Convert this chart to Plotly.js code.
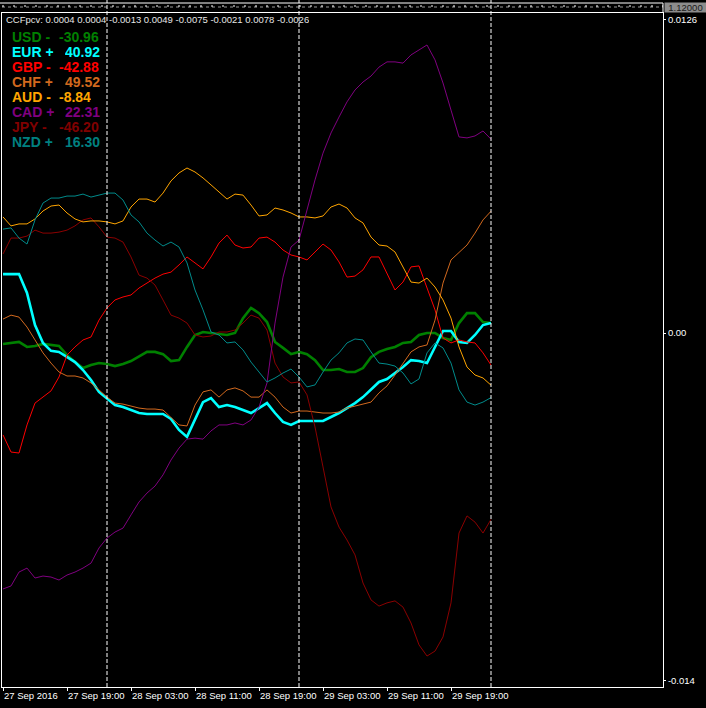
<!DOCTYPE html>
<html><head><meta charset="utf-8">
<script src="https://cdn.plot.ly/plotly-3.0.1.min.js"></script>
<style>html,body{margin:0;padding:0;background:#000;}#chart{width:706px;height:708px;}</style>
</head><body><div id="chart"></div>
<script>
// ---- data (hourly bars, H1) ----
const times = [
 '2016-09-27 11:00','2016-09-27 12:00','2016-09-27 13:00','2016-09-27 14:00','2016-09-27 15:00','2016-09-27 16:00','2016-09-27 17:00','2016-09-27 18:00','2016-09-27 19:00','2016-09-27 20:00','2016-09-27 21:00','2016-09-27 22:00','2016-09-27 23:00',
 '2016-09-28 00:00','2016-09-28 01:00','2016-09-28 02:00','2016-09-28 03:00','2016-09-28 04:00','2016-09-28 05:00','2016-09-28 06:00','2016-09-28 07:00','2016-09-28 08:00','2016-09-28 09:00','2016-09-28 10:00','2016-09-28 11:00',
 '2016-09-28 12:00','2016-09-28 13:00','2016-09-28 14:00','2016-09-28 15:00','2016-09-28 16:00','2016-09-28 17:00','2016-09-28 18:00','2016-09-28 19:00','2016-09-28 20:00','2016-09-28 21:00','2016-09-28 22:00','2016-09-28 23:00',
 '2016-09-29 00:00','2016-09-29 01:00','2016-09-29 02:00','2016-09-29 03:00','2016-09-29 04:00','2016-09-29 05:00','2016-09-29 06:00','2016-09-29 07:00','2016-09-29 08:00','2016-09-29 09:00','2016-09-29 10:00','2016-09-29 11:00',
 '2016-09-29 12:00','2016-09-29 13:00','2016-09-29 14:00','2016-09-29 15:00','2016-09-29 16:00','2016-09-29 17:00','2016-09-29 18:00','2016-09-29 19:00','2016-09-29 20:00','2016-09-29 21:00','2016-09-29 22:00','2016-09-29 23:00',
 '2016-09-30 00:00'
];
const usd = [-0.00044,-0.00040,-0.00036,-0.00056,-0.00052,-0.00044,-0.00048,-0.00052,-0.00089,-0.00117,
 -0.00141,-0.00129,-0.00121,-0.00125,-0.00133,-0.00125,-0.00113,-0.00093,-0.00076,-0.00076,
 -0.00085,-0.00113,-0.00109,-0.00056,-0.00008,0.00004,0,-0.00004,-0.00008,0,
 0.00060,0.00101,0.00080,0.00044,-0.00036,-0.00060,-0.00085,-0.00076,-0.00085,-0.00109,
 -0.00149,-0.00149,-0.00145,-0.00157,-0.00157,-0.00141,-0.00097,-0.00076,-0.00064,-0.00056,
 -0.00040,-0.00036,-0.00008,0,0,-0.00020,-0.00028,0.00040,0.00080,0.00080,
 0.00044,0.00040];
const eur = [0.00237,0.00237,0.00237,0.00161,0.00032,-0.00040,-0.00072,-0.00076,-0.00097,-0.00117,
 -0.00149,-0.00189,-0.00237,-0.00262,-0.00290,-0.00298,-0.00310,-0.00322,-0.00326,-0.00326,
 -0.00326,-0.00346,-0.00390,-0.00418,-0.00350,-0.00278,-0.00262,-0.00298,-0.00290,-0.00298,
 -0.00310,-0.00322,-0.00302,-0.00282,-0.00322,-0.00358,-0.00370,-0.00354,-0.00354,-0.00354,
 -0.00354,-0.00338,-0.00322,-0.00302,-0.00282,-0.00258,-0.00229,-0.00197,-0.00185,-0.00161,
 -0.00137,-0.00109,-0.00113,-0.00121,-0.00056,0.00008,0.00008,-0.00036,-0.00040,-0.00008,
 0.00032,0.00040];
const gbp = [-0.00410,-0.00479,-0.00483,-0.00370,-0.00282,-0.00258,-0.00233,-0.00177,-0.00089,-0.00056,
 -0.00028,-0.00016,0.00052,0.00101,0.00133,0.00145,0.00153,0.00181,0.00201,0.00221,
 0.00237,0.00245,0.00274,0.00306,0.00282,0.00258,0.00306,0.00362,0.00394,0.00354,
 0.00342,0.00346,0.00382,0.00386,0.00366,0.00334,0.00314,0.00306,0.00294,0.00326,
 0.00358,0.00334,0.00286,0.00225,0.00229,0.00254,0.00306,0.00306,0.00241,0.00173,
 0.00205,0.00266,0.00270,0.00185,0.00093,-0.00020,-0.00040,-0.00028,-0.00036,-0.00040,
 -0.00080,-0.00129];
const chf = [0.00056,0.00072,0.00064,0.00024,-0.00028,-0.00080,-0.00121,-0.00157,-0.00173,-0.00173,
 -0.00181,-0.00201,-0.00229,-0.00258,-0.00282,-0.00286,-0.00294,-0.00302,-0.00306,-0.00306,
 -0.00310,-0.00338,-0.00370,-0.00374,-0.00290,-0.00237,-0.00229,-0.00258,-0.00229,-0.00221,
 -0.00233,-0.00258,-0.00258,-0.00229,-0.00258,-0.00298,-0.00322,-0.00314,-0.00314,-0.00318,
 -0.00322,-0.00322,-0.00318,-0.00302,-0.00294,-0.00286,-0.00278,-0.00241,-0.00213,-0.00169,
 -0.00121,-0.00076,-0.00056,-0.00048,0.00052,0.00201,0.00294,0.00326,0.00354,0.00402,
 0.00455,0.00490];
const jpy = [0.00318,0.00382,0.00382,0.00390,0.00414,0.00402,0.00402,0.00406,0.00414,0.00431,
 0.00455,0.00463,0.00427,0.00386,0.00382,0.00366,0.00306,0.00233,0.00221,0.00193,
 0.00133,0.00072,0.00060,0.00040,-0.00008,-0.00016,-0.00012,0.00004,0.00004,0.00012,
 0.00040,0.00072,0.00060,0.00012,-0.00121,-0.00177,-0.00201,-0.00197,-0.00249,-0.00378,
 -0.00539,-0.00700,-0.00781,-0.00833,-0.00893,-0.01006,-0.01074,-0.01099,-0.01086,-0.01078,
 -0.01103,-0.01167,-0.01255,-0.01300,-0.01280,-0.01223,-0.01086,-0.00805,-0.00736,-0.00761,
 -0.00805,-0.00750];
const aud = [0.00467,0.00431,0.00439,0.00439,0.00459,0.00491,0.00511,0.00515,0.00483,0.00459,
 0.00447,0.00451,0.00451,0.00447,0.00439,0.00451,0.00507,0.00539,0.00539,0.00527,
 0.00563,0.00612,0.00644,0.00664,0.00648,0.00624,0.00596,0.00567,0.00539,0.00559,
 0.00555,0.00515,0.00471,0.00475,0.00503,0.00495,0.00483,0.00467,0.00467,0.00463,
 0.00471,0.00507,0.00519,0.00503,0.00463,0.00443,0.00386,0.00354,0.00350,0.00326,
 0.00266,0.00205,0.00201,0.00221,0.00185,0.00133,0.00060,-0.00056,-0.00137,-0.00169,
 -0.00181,-0.00210];
const cad = [-0.01030,-0.01018,-0.00962,-0.00946,-0.00986,-0.00978,-0.00982,-0.00994,-0.00974,-0.00962,
 -0.00946,-0.00926,-0.00865,-0.00825,-0.00801,-0.00785,-0.00732,-0.00680,-0.00644,-0.00616,
 -0.00571,-0.00511,-0.00463,-0.00427,-0.00423,-0.00427,-0.00394,-0.00370,-0.00370,-0.00362,
 -0.00370,-0.00350,-0.00298,-0.00201,0.00040,0.00225,0.00346,0.00374,0.00495,0.00616,
 0.00724,0.00805,0.00869,0.00930,0.00978,0.01010,0.01034,0.01070,0.01091,0.01091,
 0.01086,0.01119,0.01139,0.01159,0.01099,0.01006,0.00897,0.00789,0.00785,0.00793,
 0.00813,0.00780];
const nzd = [0.00418,0.00423,0.00382,0.00358,0.00455,0.00523,0.00543,0.00543,0.00551,0.00551,
 0.00559,0.00547,0.00555,0.00563,0.00563,0.00535,0.00475,0.00447,0.00402,0.00374,
 0.00350,0.00366,0.00346,0.00282,0.00173,0.00093,0.00004,-0.00008,-0.00040,-0.00036,
 -0.00068,-0.00117,-0.00157,-0.00197,-0.00181,-0.00161,-0.00145,-0.00177,-0.00217,-0.00209,
 -0.00157,-0.00109,-0.00080,-0.00040,-0.00024,-0.00028,-0.00076,-0.00121,-0.00125,-0.00133,
 -0.00161,-0.00205,-0.00185,-0.00080,-0.00040,-0.00060,-0.00121,-0.00229,-0.00278,-0.00290,
 -0.00278,-0.00260];

const legendNames  = ['USD','EUR','GBP','CHF','AUD','CAD','JPY','NZD'];
const legendSigns  = ['-','+','-','+','-','+','-','+'];
const legendValues = ['-30.96','40.92','-42.88','49.52','-8.84','22.31','-46.20','16.30'];
const headerLabel  = 'CCFpcv:';
const headerValues = ['0.0004','0.0004','-0.0013','0.0049','-0.0075','-0.0021','0.0078','-0.0026'];
const xTickVals = ['2016-09-27 11:00','2016-09-27 19:00','2016-09-28 03:00','2016-09-28 11:00','2016-09-28 19:00','2016-09-29 03:00','2016-09-29 11:00','2016-09-29 19:00'];
const xTickText = ['27 Sep 2016','27 Sep 19:00','28 Sep 03:00','28 Sep 11:00','28 Sep 19:00','29 Sep 03:00','29 Sep 11:00','29 Sep 19:00'];
const yTickVals = [0.0126, 0, -0.014];
const yTickText = ['0.0126','0.00','-0.014'];
const daySeparators = ['2016-09-28 00:00','2016-09-29 00:00','2016-09-30 00:00'];
const priceLabel = '1.12000';

// ---- styles ----
const COLORS = {USD:'#008000',EUR:'#00FFFF',GBP:'#FF0000',CHF:'#D2691E',AUD:'#FFA500',CAD:'#800080',JPY:'#8B0000',NZD:'#008B8B'};
const TEXTCOL = {USD:'#008000',EUR:'#00FFFF',GBP:'#FF0000',CHF:'#D2691E',AUD:'#FFA500',CAD:'#800080',JPY:'#800000',NZD:'#008080'};
const WIDTHS = {USD:2.6,EUR:2.6,GBP:1,CHF:1,AUD:1,CAD:1,JPY:1,NZD:1};
const seriesByName = {USD:usd,EUR:eur,GBP:gbp,CHF:chf,JPY:jpy,AUD:aud,CAD:cad,NZD:nzd};
const drawOrder = ['USD','EUR','GBP','CHF','JPY','AUD','CAD','NZD'];

const W=706,H=708,M={l:2,r:43,t:13,b:21};
const plotW=W-M.l-M.r, plotH=H-M.t-M.b;
const px2x = px => (px-M.l)/plotW;
const py2y = py => (H-M.b-py)/plotH;
const FONT='Liberation Sans, Arial, sans-serif';

const traces = drawOrder.map(n => ({
  type:'scatter', mode:'lines', x:times, y:seriesByName[n], name:n,
  line:{color:COLORS[n], width:WIDTHS[n]}, hoverinfo:'skip', showlegend:false
}));

const annotations = [];
annotations.push({xref:'paper',yref:'paper',x:px2x(5),y:py2y(20),xanchor:'left',yanchor:'middle',
  text:headerLabel+' '+headerValues.join(' '),showarrow:false,height:11,borderpad:0,
  font:{family:FONT,size:9.5,color:'#E6E6E6'}});
legendNames.forEach((n,i)=>{
  const py = 36.7 + i*14.9;
  annotations.push({xref:'paper',yref:'paper',x:px2x(11),y:py2y(py),xanchor:'left',yanchor:'middle',
    text:'<b>'+n+' '+legendSigns[i]+'</b>',showarrow:false,height:13,borderpad:0,
    font:{family:FONT,size:14,color:TEXTCOL[n]}});
  const vx = legendValues[i].startsWith('-') ? 58 : 64;
  annotations.push({xref:'paper',yref:'paper',x:px2x(vx),y:py2y(py),xanchor:'left',yanchor:'middle',
    text:'<b>'+legendValues[i]+'</b>',showarrow:false,height:13,borderpad:0,
    font:{family:FONT,size:14,color:TEXTCOL[n]}});
});
annotations.push({xref:'paper',yref:'paper',x:px2x(685),y:py2y(7.5),xanchor:'center',yanchor:'middle',
  text:priceLabel,showarrow:false,bgcolor:'#8c8c8c',borderpad:0,width:41,height:9,
  font:{family:FONT,size:9.5,color:'#1a1a1a'}});

const shapes = [];
// top strip (main price window, collapsed)
shapes.push({type:'line',xref:'paper',yref:'paper',x0:px2x(0),x1:px2x(663),y0:py2y(3),y1:py2y(3),line:{color:'#FFFFFF',width:1}});
shapes.push({type:'line',xref:'paper',yref:'paper',x0:px2x(2),x1:px2x(663),y0:py2y(7),y1:py2y(7),line:{color:'#9a9a9a',width:1,dash:'3px,3px'}});
shapes.push({type:'line',xref:'paper',yref:'paper',x0:px2x(2),x1:px2x(663),y0:py2y(6),y1:py2y(6),line:{color:'#FFFFFF',width:1,dash:'2px,9px'}});
shapes.push({type:'line',xref:'paper',yref:'paper',x0:px2x(663),x1:px2x(663),y0:py2y(3),y1:py2y(12),line:{color:'#FFFFFF',width:1}});
daySeparators.forEach(t=>{
  shapes.push({type:'line',xref:'x',yref:'paper',x0:t,x1:t,y0:0,y1:py2y(0),line:{color:'#FFFFFF',width:1,dash:'4px,2px'}});
});

const layout = {
  width:W,height:H,margin:M,paper_bgcolor:'#000',plot_bgcolor:'#000',showlegend:false,
  xaxis:{type:'date',range:['2016-09-27 10:52:30','2016-09-30 21:30'],showgrid:false,zeroline:false,
    showline:true,linecolor:'#FFFFFF',linewidth:1,mirror:true,
    ticks:'outside',ticklen:3,tickcolor:'#FFFFFF',tickvals:xTickVals,ticktext:xTickText,tickangle:0,
    ticklabelposition:'outside right',tickfont:{family:FONT,size:9.5,color:'#FFFFFF'}},
  yaxis:{side:'right',range:[-0.014245,0.012877],showgrid:false,zeroline:false,
    showline:true,linecolor:'#FFFFFF',linewidth:1,mirror:true,
    ticks:'outside',ticklen:2,tickcolor:'#FFFFFF',tickvals:yTickVals,ticktext:yTickText,
    tickfont:{family:FONT,size:9.5,color:'#FFFFFF'}},
  annotations:annotations, shapes:shapes
};
Plotly.newPlot('chart',traces,layout,{displayModeBar:false,staticPlot:true});
</script></body></html>
